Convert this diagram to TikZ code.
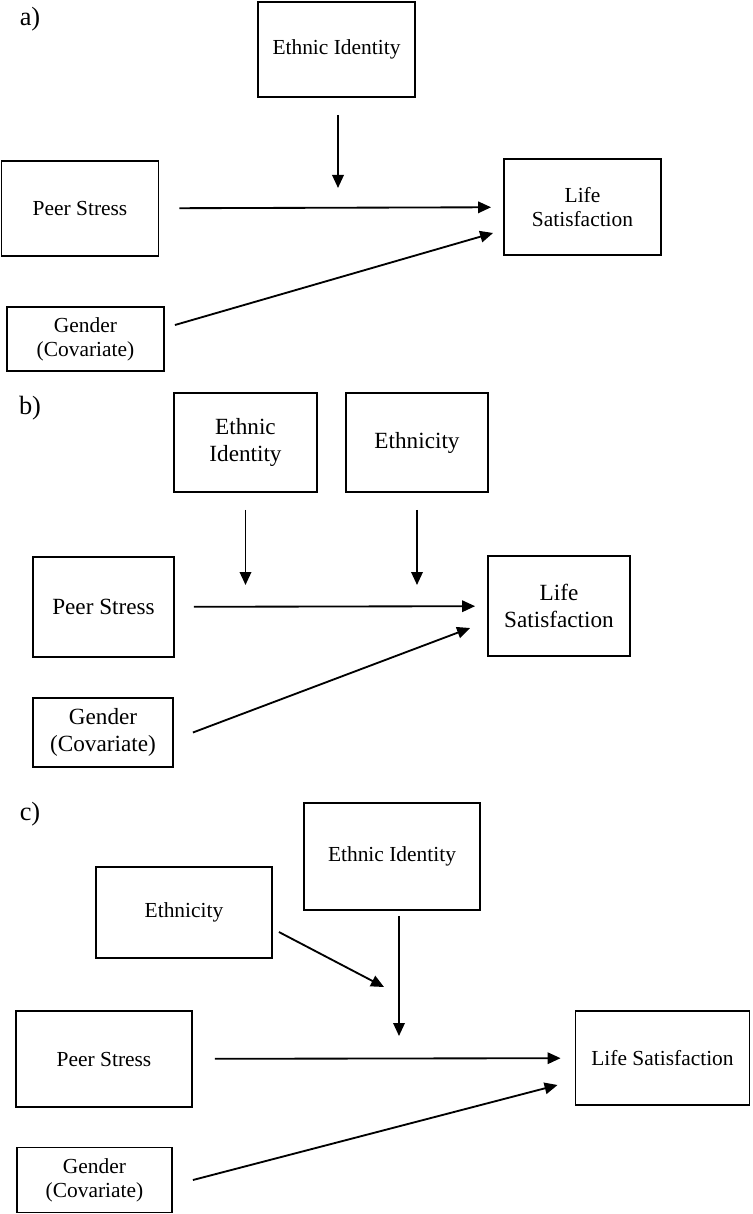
\documentclass[tikz,border=0pt]{standalone}
\usepackage{fontspec}
\setmainfont{Liberation Serif}
\usepackage{tikz}
\usetikzlibrary{arrows.meta,positioning,calc}

\begin{document}
\begin{tikzpicture}[
    box/.style={draw, line width=1.05pt, inner sep=2pt, align=center,
                font=\fontsize{12.2}{13.6}\selectfont},
    boxb/.style={box, font=\fontsize{13.2}{15.6}\selectfont},
    panel/.style={font=\fontsize{15}{17}\selectfont},
    arr/.style={-{Triangle[length=0.26cm, width=0.23cm]}, line width=1.05pt}
]
    \useasboundingbox (0,0) rectangle (15.04,-24.28);

    % a)
    \node[panel] (la) at (0.60, -0.38) {a)};
    \node[box, minimum width=3.14cm, minimum height=1.90cm] (eia) at (6.73, -0.99) {Ethnic Identity};
    \node[box, minimum width=3.14cm, minimum height=1.90cm] (psa) at (1.60, -4.17) {Peer Stress};
    \node[box, minimum width=3.14cm, minimum height=1.92cm] (lsa) at (11.65, -4.14) {Life\\Satisfaction};
    \node[box, minimum width=3.14cm, minimum height=1.28cm] (gea) at (1.71, -6.78) {Gender\\(Covariate)};
    \coordinate (ma) at (6.76, -3.76);
    \draw[arr, shorten <=0.34cm] (eia.south -| ma) -- (ma);
    \draw[arr, shorten <=0.40cm, shorten >=0.24cm] (psa) -- (lsa);
    \draw[arr] ([shift={(0.20,0.28)}]gea.east) -- ([shift={(-0.20,-0.52)}]lsa.west);

    % b)
    \node[panel] (lb) at (0.60, -8.16) {b)};
    \node[boxb, minimum width=2.86cm, minimum height=1.98cm] (eib) at (4.91, -8.85) {Ethnic\\Identity};
    \node[boxb, minimum width=2.84cm, minimum height=1.98cm] (etb) at (8.34, -8.85) {Ethnicity};
    \node[boxb, minimum width=2.82cm, minimum height=2.00cm] (psb) at (2.07, -12.14) {Peer Stress};
    \node[boxb, minimum width=2.84cm, minimum height=2.00cm] (lsb) at (11.18, -12.12) {Life\\Satisfaction};
    \node[boxb, minimum width=2.80cm, minimum height=1.38cm] (geb) at (2.06, -14.65) {Gender\\(Covariate)};
    \coordinate (mb1) at (4.91, -11.70);
    \coordinate (mb2) at (8.34, -11.70);
    \draw[arr, shorten <=0.34cm] (eib) -- (mb1);
    \draw[arr, shorten <=0.34cm] (etb) -- (mb2);
    \draw[arr, shorten <=0.38cm, shorten >=0.24cm] (psb) -- (lsb);
    \draw[arr] ([xshift=0.38cm]geb.east) -- ([shift={(-0.34,-0.44)}]lsb.west);

    % c)
    \node[panel] (lc) at (0.60, -16.28) {c)};
    \node[box, minimum width=3.52cm, minimum height=2.14cm] (eic) at (7.84, -17.13) {Ethnic Identity};
    \node[box, minimum width=3.52cm, minimum height=1.82cm] (etc) at (3.68, -18.25) {Ethnicity};
    \node[box, minimum width=3.52cm, minimum height=1.92cm] (psc) at (2.08, -21.18) {Peer Stress};
    \node[box, minimum width=3.48cm, minimum height=1.88cm] (lsc) at (13.25, -21.16) {Life Satisfaction};
    \node[box, minimum width=3.10cm, minimum height=1.30cm] (gec) at (1.89, -23.60) {Gender\\(Covariate)};
    \coordinate (mc) at (7.98, -20.72);
    \coordinate (ce) at (7.68, -19.74);
    \draw[arr, shorten <=0.10cm] (eic.south -| mc) -- (mc);
    \draw[arr] ([shift={(0.12,-0.39)}]etc.east) -- (ce);
    \draw[arr, shorten <=0.44cm, shorten >=0.28cm] (psc) -- (lsc);
    \draw[arr] ([xshift=0.40cm]gec.east) -- ([shift={(-0.34,-0.54)}]lsc.west);
\end{tikzpicture}
\end{document}
